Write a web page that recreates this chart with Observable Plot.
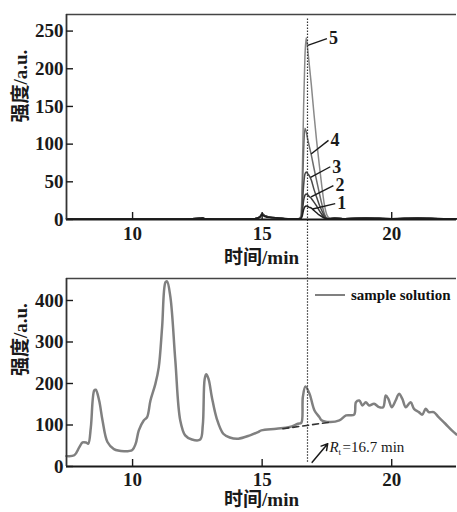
<!DOCTYPE html>
<html><head><meta charset="utf-8">
<script src="https://cdn.jsdelivr.net/npm/d3@7"></script>
<script src="https://cdn.jsdelivr.net/npm/@observablehq/plot@0.6"></script>
<style>
body{margin:0;background:#fff;}
#wrap{position:relative;width:457px;height:512px;overflow:hidden;}
#wrap svg{display:block;overflow:visible;}
#legend{position:absolute;left:315px;top:285px;height:20px;display:flex;align-items:center;font:bold 15px "Liberation Serif",serif;color:#111;}
#legend .sw{display:inline-block;width:30px;height:0;border-top:2.5px solid #808080;margin-right:6px;}
</style></head><body>
<div id="wrap"><div id="top"></div><div id="bottom"></div>
<div id="legend"><span class="sw"></span><span>sample solution</span></div></div>
<script>
// ---- axes ----
const xDomain = [7.45, 22.5];
const xTicks = [10, 15, 20];
const topYDomain = [0, 272];
const topYTicks = [0, 50, 100, 150, 200, 250];
const botYDomain = [0, 453];
const botYTicks = [0, 100, 200, 300, 400];
const xLabel = "时间/min";
const yLabel = "强度/a.u.";

// ---- top panel: standard solutions 1-5 ----
const topTime = [7.45, 12.0, 12.6, 12.7, 12.8, 13.5, 14.7, 14.9, 15.0, 15.1, 15.3, 15.6, 16.0, 16.4, 16.5, 16.55, 16.6, 16.65, 16.7, 16.75, 16.8, 16.9, 17.0, 17.1, 17.2, 17.3, 17.4, 17.5, 17.6, 17.8, 18.2, 19.0, 20.0, 21.0, 22.0, 22.5];
const curve1 = [0.5, 0.5, 1.5, 2, 1, 0.5, 1, 3, 6, 4, 2.5, 2, 1, 1, 1.5, 5, 13, 17, 18, 17.5, 16.5, 15, 12, 9, 6, 4, 2, 1, 1, 1.5, 1, 1.5, 1, 1.5, 1, 1];
const curve2 = [0.5, 0.5, 1.5, 2, 1, 0.5, 1, 3, 7, 5, 3, 2, 1, 1, 1.5, 10, 25, 32, 34, 33, 31, 28, 23, 18, 12, 7, 3, 1, 1, 1.5, 1, 2, 1, 1.5, 1, 1];
const curve3 = [0.5, 0.5, 1.5, 2, 1, 0.5, 1, 3, 7, 5, 3, 2, 1, 1, 2, 18, 45, 60, 63, 61, 59, 52, 40, 30, 20, 12, 5, 1.5, 1, 1.5, 1, 2, 1, 2, 1, 1];
const curve4 = [0.5, 0.5, 1.5, 2, 1, 0.5, 1, 3, 8, 5, 3, 2, 1, 1, 3, 35, 90, 121, 117, 108, 100, 85, 68, 52, 36, 21, 8, 2, 1.5, 1.5, 1, 2, 1, 2, 1, 1];
const curve5 = [0.5, 0.5, 1.5, 2, 1, 0.5, 1, 3, 8, 5, 3, 2, 1, 1, 5, 60, 150, 215, 241, 228, 212, 178, 140, 105, 74, 45, 20, 6, 2, 1.5, 1, 2, 1, 2, 1, 1];
const curveNames = ["1", "2", "3", "4", "5"];
const curveColors = ["#1e1e1e", "#3c3c3c", "#4a4a4a", "#6c6c6c", "#8a8a8a"];

// peak labels with leader lines
const labelTime = [17.82, 17.75, 17.63, 17.56, 17.5];
const labelValue = [21, 45, 70, 105, 240];
const leaderTime = [16.95, 16.89, 16.87, 16.89, 16.76];
const leaderValue = [14, 30, 56, 87, 231];

// ---- bottom panel: sample solution ----
const sampleTime = [7.45, 7.75, 7.94, 8.07, 8.2, 8.29, 8.39, 8.52, 8.58, 8.71, 8.84, 9.03, 9.28, 9.67, 9.99, 10.12, 10.24, 10.43, 10.56, 10.69, 10.88, 11.01, 11.14, 11.27, 11.33, 11.46, 11.65, 11.84, 12.03, 12.29, 12.61, 12.71, 12.78, 12.84, 12.93, 13.06, 13.25, 13.5, 13.75, 14.08, 14.53, 14.84, 14.97, 15.55, 16.06, 16.38, 16.51, 16.57, 16.67, 16.83, 17.02, 17.21, 17.28, 17.6, 17.98, 18.24, 18.55, 18.62, 18.75, 18.87, 19.0, 19.13, 19.32, 19.51, 19.67, 19.77, 19.87, 20.0, 20.15, 20.28, 20.41, 20.54, 20.73, 20.86, 21.05, 21.18, 21.31, 21.43, 21.62, 21.81, 22.07, 22.32, 22.5];
const sampleValue = [25, 27, 46, 58, 58, 55, 95, 183, 185, 159, 111, 59, 42, 37, 40, 55, 87, 111, 119, 159, 199, 239, 336, 444, 446, 408, 255, 111, 75, 65, 65, 100, 210, 222, 211, 167, 115, 79, 70, 67, 75, 83, 87, 91, 95, 103, 105, 167, 193, 175, 135, 119, 112, 107, 111, 123, 125, 155, 159, 147, 155, 147, 151, 143, 143, 171, 163, 143, 159, 175, 163, 143, 155, 139, 131, 125, 139, 131, 131, 119, 103, 87, 77];
const sampleLabel = "sample solution";

// integration baseline (dashed) and retention-time annotation
const baseTime = [15.8, 17.66];
const baseValue = [91, 107];
const retention = 16.75;
const arrowFrom = {t: 16.93, v: 10};
const arrowTo = {t: 17.53, v: 55};
const rtText = {t: 17.6, v: 47};

const fontFamily = '"Liberation Serif", "Noto Sans CJK SC", serif';
const ink = "#1a1a1a";

function frameMarks(yDomain, yTicks, xPad, labelDy, yLabelDy) {
  return [
    Plot.ruleY([yDomain[1]], {stroke: "#444", strokeWidth: 1.5}),
    Plot.ruleY([yDomain[0]], {stroke: ink, strokeWidth: 1.8}),
    Plot.ruleX([xDomain[0]], {y1: yDomain[0], y2: yDomain[1], stroke: "#333", strokeWidth: 1.8}),
    Plot.ruleX(xTicks, {x: d => d, y1: yDomain[0], y2: yDomain[0], insetBottom: 7, stroke: ink, strokeWidth: 1.4}),
    Plot.ruleY(yTicks, {y: d => d, x1: xDomain[0], x2: xDomain[0], insetRight: -7, stroke: ink, strokeWidth: 1.4}),
    Plot.axisX(xTicks, {tickSize: 0, tickPadding: xPad, label: null, tickFormat: d => String(d)}),
    Plot.axisY(yTicks, {tickSize: 0, tickPadding: 3, label: null, tickFormat: d => String(d)}),
    Plot.text([xLabel], {frameAnchor: "bottom", dy: labelDy, lineAnchor: "middle", fontSize: 19, fill: ink}),
    Plot.text([yLabel], {frameAnchor: "left", rotate: -90, dx: -46, dy: yLabelDy, lineAnchor: "middle", fontSize: 19, fill: ink})
  ];
}

const svgStyle = {fontFamily, fontSize: "19px", fontWeight: "bold", color: ink, overflow: "visible", background: "transparent"};

// top data table
const topRows = [];
[curve5, curve4, curve3, curve2, curve1].forEach((arr, j) => {
  const name = curveNames[4 - j];
  arr.forEach((v, i) => topRows.push({t: topTime[i], v, c: name}));
});
const labelRows = curveNames.map((n, i) => ({n, t: labelTime[i], v: labelValue[i], t0: leaderTime[i], v0: leaderValue[i]}));

const topPlot = Plot.plot({
  width: 457, height: 265,
  marginLeft: 66, marginRight: 1, marginTop: 14, marginBottom: 46,
  style: svgStyle,
  x: {domain: xDomain},
  y: {domain: topYDomain},
  color: {domain: curveNames, range: curveColors},
  marks: [
    Plot.line(topRows, {x: "t", y: "v", z: "c", stroke: "c", strokeWidth: 1.5, curve: "monotone-x"}),
    Plot.ruleX([retention], {y1: 266, y2: -62, stroke: "#333", strokeWidth: 1.2, strokeDasharray: "1.5,1.5"}),
    Plot.link(labelRows, {x1: "t0", y1: "v0", x2: "t", y2: "v", stroke: ink, strokeWidth: 1.4}),
    Plot.text(labelRows, {x: "t", y: "v", text: "n", textAnchor: "start", dx: 2, fontSize: 18, fill: ink}),
    ...frameMarks(topYDomain, topYTicks, 7, 38.5, 5.5)
  ]
});

const sampleRows = sampleTime.map((t, i) => ({t, v: sampleValue[i]}));
const baseRows = baseTime.map((t, i) => ({t, v: baseValue[i]}));

const botPlot = Plot.plot({
  width: 457, height: 247,
  marginLeft: 66, marginRight: 1, marginTop: 13, marginBottom: 46,
  style: svgStyle,
  x: {domain: xDomain},
  y: {domain: botYDomain},
  marks: [
    Plot.line(sampleRows, {x: "t", y: "v", stroke: "#808080", strokeWidth: 2.5, curve: "catmull-rom", strokeLinejoin: "round"}),
    Plot.line(baseRows, {x: "t", y: "v", stroke: "#333", strokeWidth: 1.6, strokeDasharray: "6,4"}),
    Plot.ruleX([retention], {y1: 484, y2: 10, stroke: "#333", strokeWidth: 1.2, strokeDasharray: "1.5,1.5"}),
    Plot.arrow([{a: arrowFrom, b: arrowTo}], {x1: d => d.a.t, y1: d => d.a.v, x2: d => d.b.t, y2: d => d.b.v, stroke: ink, strokeWidth: 1.5, headLength: 7}),
    Plot.text(["R"], {x: rtText.t, y: rtText.v, textAnchor: "start", fontStyle: "italic", fontWeight: "normal", fontSize: 15, fill: ink}),
    Plot.text(["t"], {x: rtText.t, y: rtText.v, textAnchor: "start", dx: 9, dy: 5, fontWeight: "normal", fontSize: 9, fill: ink}),
    Plot.text(["=16.7 min"], {x: rtText.t, y: rtText.v, textAnchor: "start", dx: 13, fontWeight: "normal", fontSize: 15, fill: ink}),
    ...frameMarks(botYDomain, botYTicks, 6, 33, 3.5)
  ]
});

document.getElementById("top").appendChild(topPlot);
document.getElementById("bottom").appendChild(botPlot);
</script>
</body></html>
